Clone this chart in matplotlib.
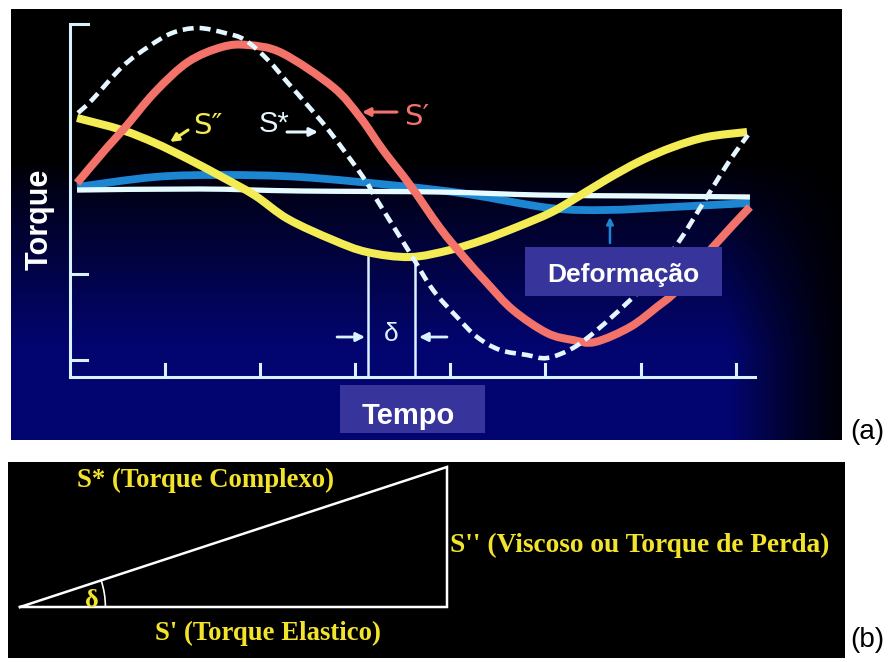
import numpy as np
import matplotlib
matplotlib.use("Agg")
import matplotlib.pyplot as plt
from matplotlib.patches import Rectangle, Arc, PathPatch
from matplotlib.path import Path

# ---------------- data, panel (a): time in tick units, torque in axis units -------------
s_star_t = [0.084, 0.231, 0.547, 0.820, 1.073, 1.346, 1.630, 1.840, 2.082, 2.292,
            2.450, 2.734, 3.081, 3.228, 3.575, 3.817, 4.069, 4.280, 4.522, 4.805,
            5.016, 5.289, 5.542, 5.857, 6.130, 6.414, 6.593, 6.761, 6.940, 7.129]
s_star_v = [3.070, 3.221, 3.605, 3.837, 4.000, 4.058, 4.000, 3.919, 3.686, 3.419,
            3.221, 2.849, 2.326, 2.058, 1.442, 1.012, 0.698, 0.465, 0.314, 0.256,
            0.221, 0.337, 0.547, 0.860, 1.163, 1.593, 1.907, 2.209, 2.523, 2.814]

s_prime_t = [0.074, 0.368, 0.578, 0.894, 1.241, 1.598, 1.872, 2.229, 2.766,
             3.049, 3.291, 3.575, 3.891, 4.132, 4.385, 4.658, 5.016, 5.289, 5.521,
             5.889, 6.172, 6.383, 6.761, 7.150]
s_prime_v = [2.256, 2.640, 2.900, 3.314, 3.663, 3.837, 3.860, 3.767, 3.372,
             3.023, 2.640, 2.233, 1.733, 1.407, 1.093, 0.779, 0.512, 0.430, 0.407,
             0.581, 0.814, 1.012, 1.512, 1.977]

s_dprime_t = [0.074, 0.547, 0.894, 1.241, 1.598, 1.945, 2.292, 2.766, 3.123,
              3.575, 3.996, 4.343, 4.700, 5.047, 5.289, 5.647, 5.994, 6.341, 6.698, 7.119]
s_dprime_v = [3.012, 2.872, 2.721, 2.535, 2.326, 2.110, 1.837, 1.593, 1.453,
              1.395, 1.477, 1.593, 1.744, 1.907, 2.060, 2.300, 2.510, 2.674, 2.791, 2.849]

deform_t = [0.074, 0.894, 1.598, 2.419, 3.470, 4.175, 5.047, 5.647, 6.341, 7.150]
deform_v = [2.209, 2.326, 2.349, 2.326, 2.221, 2.128, 1.965, 1.942, 1.977, 2.023]

base_t = [0.074, 1.367, 2.419, 3.891, 4.942, 5.994, 7.150]
base_v = [2.174, 2.186, 2.163, 2.151, 2.116, 2.105, 2.093]

x_ticks = [1, 2, 3, 4, 5, 6, 7]
y_ticks = [0.198, 1.198]
y_axis_top = 4.105
x_axis_end = 7.203
delta_t = [3.134, 3.628]          # phase-lag markers
delta_level = 1.395

# ---------------- data, panel (b): vector triangle ----------------
s_elastic = 1.0
s_viscous = 0.328

# ---------------- figure ----------------
W, H = 889, 662
fig = plt.figure(figsize=(W / 100, H / 100), dpi=100, facecolor="white")


def fx(px):
    return px / W


def fy(py):
    return 1 - py / H


def smooth_path(xs, ys):
    """Bezier path (Catmull-Rom control points) passing through the given points."""
    p = np.column_stack([xs, ys]).astype(float)
    ext = np.vstack([p[0], p, p[-1]])
    verts = [p[0]]
    codes = [Path.MOVETO]
    for i in range(len(p) - 1):
        p0, p1, p2, p3 = ext[i], ext[i + 1], ext[i + 2], ext[i + 3]
        c1 = p1 + (p2 - p0) / 6.0
        c2 = p2 - (p3 - p1) / 6.0
        verts += [c1, c2, p2]
        codes += [Path.CURVE4] * 3
    return Path(verts, codes)


# ----- panel (a) -----
L, T, R, B = 11, 9, 842, 440
axa = fig.add_axes([fx(L), fy(B), (R - L) / W, (B - T) / H])
xl = ((L - 70) / 95.1, (R - 70) / 95.1)
yl = ((377 - B) / 86, (377 - T) / 86)
axa.set_xlim(*xl)
axa.set_ylim(*yl)
axa.axis("off")

# background gradient (black top -> navy bottom, darker at right edge)
gx = np.linspace(L, R, 300)
gy = np.linspace(T, B, 300)
GX, GY = np.meshgrid(gx, gy)
blue = np.clip((GY - 160) / 190, 0, 1) ** 0.85
fade = np.clip((860 - GX) / 130, 0, 1) ** 1.3
bval = blue * fade
img = np.zeros((300, 300, 3))
img[..., 0] = 0.01 * bval
img[..., 1] = 0.02 * bval
img[..., 2] = 0.44 * bval
axa.imshow(img, extent=(xl[0], xl[1], yl[0], yl[1]), aspect="auto",
           origin="upper", zorder=0, interpolation="bilinear")

axc = "#d8f2ff"
alw = 2.2
axa.plot([0, 0], [0, y_axis_top], color=axc, lw=alw, solid_capstyle="butt", zorder=2)
axa.plot([0, 0.19], [y_axis_top, y_axis_top], color=axc, lw=alw, zorder=2)
axa.plot([0, x_axis_end], [0, 0], color=axc, lw=alw, zorder=2)
for yt in y_ticks:
    axa.plot([0, 0.18], [yt, yt], color=axc, lw=alw, zorder=2)
for xt in x_ticks:
    axa.plot([xt, xt], [0, 0.15], color=axc, lw=alw, zorder=2)


def draw_curve(xs, ys, color, lw, z, dashed=False):
    kw = dict(fill=False, edgecolor=color, lw=lw, zorder=z, capstyle="butt",
              joinstyle="round")
    if dashed:
        kw["linestyle"] = (0, (2.4, 1.3))
    axa.add_patch(PathPatch(smooth_path(xs, ys), **kw))


draw_curve(deform_t, deform_v, "#1c86d2", 5.6, 3)
draw_curve(base_t, base_v, "#e6fbff", 3.8, 4)
draw_curve(s_dprime_t, s_dprime_v, "#f3ec55", 5.8, 5)
draw_curve(s_prime_t, s_prime_v, "#f3726a", 5.8, 6)
draw_curve(s_star_t, s_star_v, "#e4f6ff", 3.3, 7, dashed=True)

# delta markers
for dt in delta_t:
    axa.plot([dt, dt], [0, delta_level], color=axc, lw=1.8, zorder=2)
arrow_kw = dict(arrowstyle="-|>", color=axc, lw=2.0, mutation_scale=13,
                shrinkA=0, shrinkB=0)
axa.annotate("", xy=(3.102, 0.465), xytext=(2.808, 0.465), arrowprops=arrow_kw, zorder=8)
axa.annotate("", xy=(3.670, 0.465), xytext=(3.964, 0.465), arrowprops=arrow_kw, zorder=8)
axa.text(3.381, 0.50, "δ", color=axc, fontsize=19, ha="center", va="center",
         family=["Liberation Sans", "DejaVu Sans"], zorder=8)

# labels for the curves
lab_fam = ["Liberation Sans", "DejaVu Sans"]
axa.text(1.451, 2.919, "S″", color="#f3ec55", fontsize=21, ha="center", va="center",
         family=["DejaVu Sans"], zorder=8)
axa.annotate("", xy=(1.052, 2.733), xytext=(1.241, 2.872),
             arrowprops=dict(arrowstyle="-|>", color="#f3ec55", lw=2.2,
                             mutation_scale=12, shrinkA=0, shrinkB=0), zorder=8)
axa.text(2.145, 2.942, "S*", color="#e6f6ff", fontsize=21, ha="center", va="center",
         family=lab_fam, zorder=8)
axa.annotate("", xy=(2.608, 2.849), xytext=(2.282, 2.849),
             arrowprops=dict(arrowstyle="-|>", color="#e6f6ff", lw=2.2,
                             mutation_scale=12, shrinkA=0, shrinkB=0), zorder=8)
axa.text(3.650, 3.023, "S′", color="#f3726a", fontsize=21, ha="center", va="center",
         family=["DejaVu Sans"], zorder=8)
axa.annotate("", xy=(3.070, 3.081), xytext=(3.438, 3.081),
             arrowprops=dict(arrowstyle="-|>", color="#f3726a", lw=2.2,
                             mutation_scale=12, shrinkA=0, shrinkB=0), zorder=8)

# small blue arrow pointing to the deformation curve
axa.annotate("", xy=(5.678, 1.860), xytext=(5.678, 1.558),
             arrowprops=dict(arrowstyle="-|>", color="#1c86d2", lw=1.8,
                             mutation_scale=10, shrinkA=0, shrinkB=0), zorder=8)

# boxes
box_c = "#37349b"
axa.add_patch(Rectangle((4.784, 0.942), 2.072, 0.570, facecolor=box_c,
                        edgecolor="none", zorder=9))
axa.text(5.815, 1.105, "Deformação", color="white", fontsize=19, fontweight="bold",
         ha="center", va="baseline", family=lab_fam, zorder=10)
axa.add_patch(Rectangle((2.839, -0.651), 1.525, 0.558, facecolor=box_c,
                        edgecolor="none", zorder=9))
tx = axa.text(3.070, -0.547, "Tempo", color="white", fontsize=21, fontweight="bold",
              ha="left", va="baseline", family=lab_fam, zorder=10)
clip = Rectangle((2.839, -0.570), 1.525, 0.48, transform=axa.transData)
tx.set_clip_path(clip)

fig.text(fx(40), fy(219), "Torque", color="white", fontsize=22, fontweight="bold",
         rotation=90, ha="center", va="center", family=lab_fam)

# ----- panel (b) -----
L2, T2, R2, B2 = 8, 462, 845, 658
axb = fig.add_axes([fx(L2), fy(B2), (R2 - L2) / W, (B2 - T2) / H])
axb.set_xlim((L2 - 20) / 427, (R2 - 20) / 427)
axb.set_ylim((607 - B2) / 427, (607 - T2) / 427)
axb.set_facecolor("black")
for s in axb.spines.values():
    s.set_visible(False)
axb.set_xticks([])
axb.set_yticks([])

axb.plot([0, s_elastic, s_elastic, 0], [0, 0, s_viscous, 0], color="white", lw=1.8,
         solid_joinstyle="miter")
delta_deg = np.degrees(np.arctan2(s_viscous, s_elastic))
axb.add_patch(Arc((0, 0), 0.40, 0.40, theta1=0, theta2=delta_deg, color="white", lw=1.2))

yel = "#f2e32c"
serif = ["Liberation Serif", "DejaVu Serif"]
axb.text(0.169, 0.016, "δ", color=yel, fontsize=19, fontweight="bold", ha="center",
         va="center", family=serif)
axb.text(0.1335, 0.2974, "S* (Torque Complexo)", color=yel, fontsize=19.3,
         fontweight="bold", ha="left", va="center", family=serif)
axb.text(1.007, 0.145, "S'' (Viscoso ou Torque de Perda)", color=yel, fontsize=19.7,
         fontweight="bold", ha="left", va="center", family=serif)
axb.text(0.316, -0.0609, "S' (Torque Elastico)", color=yel, fontsize=19.3,
         fontweight="bold", ha="left", va="center", family=serif)

# panel letters
fig.text(fx(867), fy(432), "(a)", color="black", fontsize=20, ha="center", va="center",
         family=lab_fam)
fig.text(fx(867), fy(640), "(b)", color="black", fontsize=20, ha="center", va="center",
         family=lab_fam)

fig.savefig("out.png", dpi=100, facecolor="white")
